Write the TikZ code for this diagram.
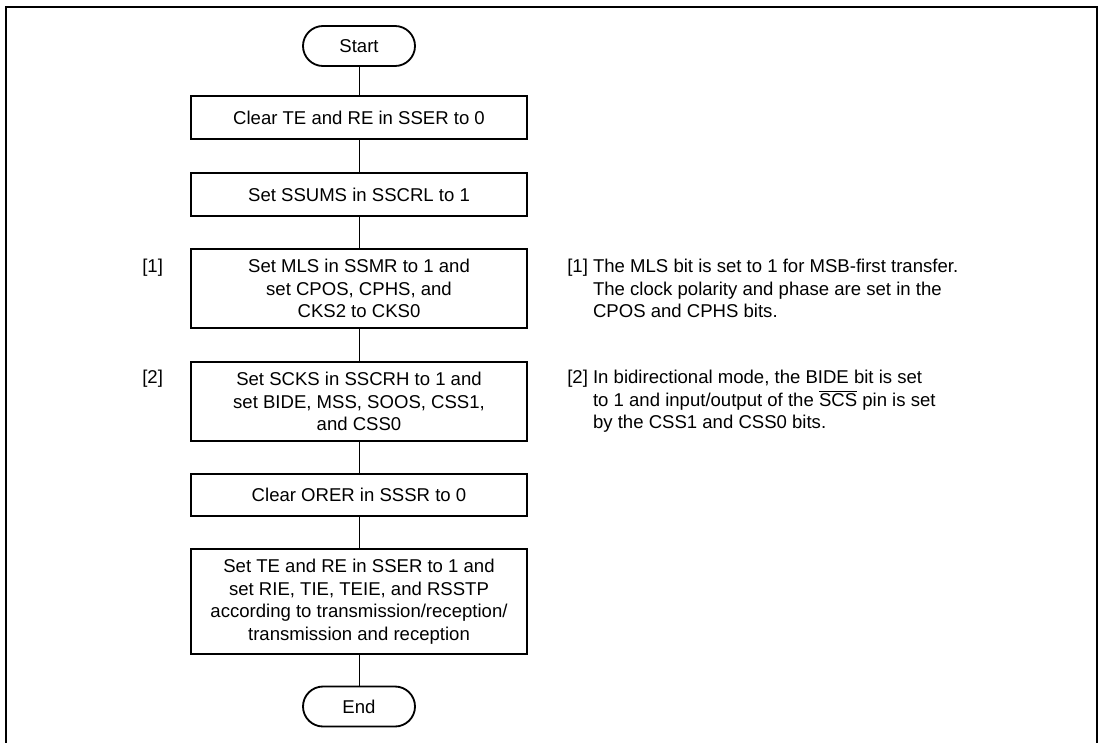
\documentclass[tikz,border=0pt]{standalone}
\usepackage{fontspec}
\setmainfont{Liberation Sans}

\newcommand{\flowfont}{\fontsize{13.2}{16}\selectfont}

\begin{document}
\begin{tikzpicture}[
    process/.style={
      draw,
      line width=1.4pt,
      minimum width=8.4cm,
      align=center,
      inner sep=2pt,
      font=\flowfont
    },
    terminal/.style={
      draw,
      line width=1.3pt,
      rounded corners=0.5cm,
      minimum width=2.8cm,
      minimum height=1.0cm,
      font=\flowfont
    },
    note/.style={
      anchor=west,
      align=left,
      inner sep=0pt,
      font=\flowfont
    },
    tag/.style={
      anchor=north west,
      inner sep=0pt,
      font=\flowfont
    },
    link/.style={
      line width=0.7pt
    }
  ]

    \useasboundingbox (0,0) rectangle (27.575,-18.55);

    % --- Outer frame (open at the bottom)
    \draw[line width=1.8pt] (0.15,-18.6) -- (0.15,-0.175) -- (27.425,-0.175) -- (27.425,-18.6);

    % --- Flow
    \node[terminal] (start) at (8.975,-1.15) {Start};
    \node[process, minimum height=1.075cm] (clearte) at (8.975,-2.9375) {Clear TE and RE in SSER to 0};
    \node[process, minimum height=1.075cm] (ssums) at (8.975,-4.8625) {Set SSUMS in SSCRL to 1};
    \node[process, minimum height=1.975cm] (mls) at (8.975,-7.2125)
      {Set MLS in SSMR to 1 and\\set CPOS, CPHS, and\\CKS2 to CKS0};
    \node[process, minimum height=1.975cm] (scks) at (8.975,-10.0375)
      {Set SCKS in SSCRH to 1 and\\set BIDE, MSS, SOOS, CSS1,\\and CSS0};
    \node[process, minimum height=1.05cm] (orer) at (8.975,-12.375) {Clear ORER in SSSR to 0};
    \node[process, minimum height=2.625cm] (enable) at (8.975,-15.0375)
      {Set TE and RE in SSER to 1 and\\set RIE, TIE, TEIE, and RSSTP\\according to transmission/reception/\\transmission and reception};
    \node[terminal] (end) at (8.975,-17.6625) {End};

    \draw[link] (start.south) -- (clearte.north);
    \draw[link] (clearte.south) -- (ssums.north);
    \draw[link] (ssums.south) -- (mls.north);
    \draw[link] (mls.south) -- (scks.north);
    \draw[link] (scks.south) -- (orer.north);
    \draw[link] (orer.south) -- (enable.north);
    \draw[link] (enable.south) -- (end.north);

    % --- Notes on the right
    \node[note] (note1) at (14.175,-7.2125)
      {[1] The MLS bit is set to 1 for MSB-first transfer.\\
       \hphantom{[1]}\ The clock polarity and phase are set in the\\
       \hphantom{[1]}\ CPOS and CPHS bits.};
    \node[note] (note2) at (14.175,-10.0375)
      {[2] In bidirectional mode, the BIDE bit is set\\
       \hphantom{[2]}\ to 1 and input/output of the $\overline{\mbox{SCS}}$ pin is set\\
       \hphantom{[2]}\ by the CSS1 and CSS0 bits.};

    % --- Step tags on the left
    \node[tag] (tag1) at (note1.north -| 3.55,0) {[1]};
    \node[tag] (tag2) at (note2.north -| 3.55,0) {[2]};

  \end{tikzpicture}
\end{document}
